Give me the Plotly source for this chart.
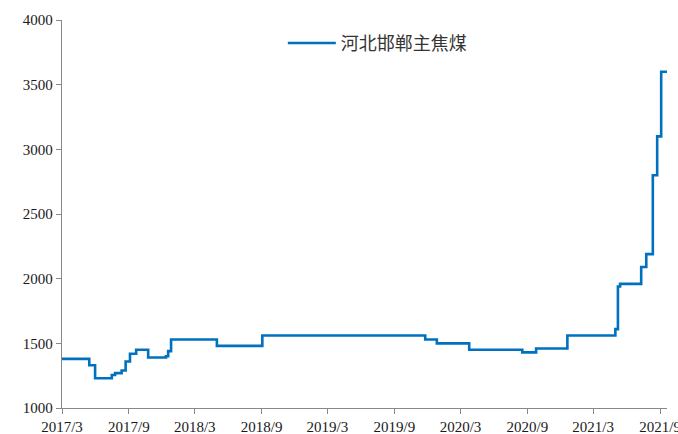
import plotly.graph_objects as go

# Price change dates and main coking coal price (yuan/ton), held until next change
dates = [
    "2017-03-01", "2017-05-15", "2017-05-31", "2017-07-16", "2017-07-25",
    "2017-08-12", "2017-08-23", "2017-09-04", "2017-09-21", "2017-10-24",
    "2017-12-12", "2017-12-18", "2017-12-26", "2018-05-01", "2018-09-03",
    "2019-11-25", "2019-12-27", "2020-03-25", "2020-08-18", "2020-09-25",
    "2020-12-20", "2021-05-01", "2021-05-08", "2021-05-14", "2021-07-11",
    "2021-07-25", "2021-08-12", "2021-08-24", "2021-09-04", "2021-09-20",
]
prices = [
    1380, 1330, 1230, 1255, 1270,
    1290, 1360, 1420, 1450, 1390,
    1400, 1440, 1530, 1480, 1560,
    1530, 1500, 1450, 1430, 1460,
    1560, 1610, 1940, 1960, 2090,
    2190, 2800, 3100, 3600, 3600,
]
series_name = "河北邯郸主焦煤"

tick_dates = ["2017-03-01", "2017-09-01", "2018-03-01", "2018-09-01", "2019-03-01",
              "2019-09-01", "2020-03-01", "2020-09-01", "2021-03-01", "2021-09-01"]
tick_labels = ["2017/3", "2017/9", "2018/3", "2018/9", "2019/3",
               "2019/9", "2020/3", "2020/9", "2021/3", "2021/9"]
y_ticks = [1000, 1500, 2000, 2500, 3000, 3500, 4000]

fig = go.Figure()
fig.add_trace(go.Scatter(
    x=dates, y=prices, name=series_name, mode="lines",
    line=dict(color="#0070C0", width=2.6, shape="hv"),
))

axis_font = dict(family="Liberation Serif, Times New Roman, serif", size=15, color="#1a1a1a")
fig.update_layout(
    width=678, height=434,
    margin=dict(l=62, r=11, t=20, b=26, autoexpand=False),
    paper_bgcolor="white", plot_bgcolor="white",
    showlegend=True,
    legend=dict(
        x=0.365, y=0.94, xanchor="left", yanchor="middle",
        font=dict(family="Noto Sans CJK SC", size=18, color="#333333"),
        itemwidth=48,
        bgcolor="rgba(0,0,0,0)",
    ),
    xaxis=dict(
        type="date", range=["2017-03-01", "2021-09-20"],
        tickvals=tick_dates, ticktext=tick_labels,
        showgrid=False, zeroline=False, automargin=False,
        showline=True, linecolor="#888888", linewidth=1.3,
        ticks="outside", ticklen=5, tickcolor="#888888",
        tickfont=axis_font, ticklabeloverflow="allow",
    ),
    yaxis=dict(
        range=[1000, 4000], tickvals=y_ticks,
        showgrid=False, zeroline=False, automargin=False,
        showline=True, linecolor="#888888", linewidth=1.3,
        ticks="outside", ticklen=5, tickcolor="#888888",
        tickfont=axis_font,
    ),
)

fig.write_html("out.html")
